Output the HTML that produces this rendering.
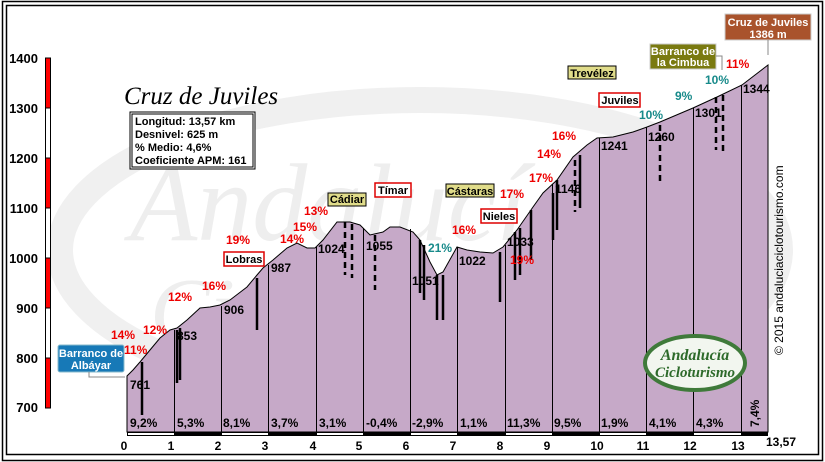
<!DOCTYPE html>
<html><head><meta charset="utf-8"><style>
html,body{margin:0;padding:0;background:#fff}
svg{display:block}
text{font-family:"Liberation Sans",sans-serif;font-weight:bold}
</style></head><body>
<svg width="825" height="462" viewBox="0 0 825 462" xmlns="http://www.w3.org/2000/svg">
<rect x="0" y="0" width="825" height="462" fill="#fff"/>
<rect x="2.5" y="1.5" width="820" height="459" fill="none" stroke="#000" stroke-width="1.5"/>
<rect x="6.5" y="5.5" width="812" height="449" fill="none" stroke="#000" stroke-width="1.5"/>
<!-- watermark -->
<ellipse cx="420" cy="250" rx="360" ry="150" fill="none" stroke="#f0f0f0" stroke-width="26"/>
<text x="130" y="240" font-size="110" fill="#eeeeee" style="font-family:'Liberation Serif',serif;font-style:italic;font-weight:normal">Andalucía</text>
<text x="150" y="340" font-size="90" fill="#eeeeee" style="font-family:'Liberation Serif',serif;font-style:italic;font-weight:normal">Cicloturismo</text>
<!-- y axis bar -->
<g stroke="#000" stroke-width="1">
<rect x="45.5" y="58" width="5" height="50" fill="#f00"/>
<rect x="45.5" y="108" width="5" height="50" fill="#fff"/>
<rect x="45.5" y="158" width="5" height="50" fill="#f00"/>
<rect x="45.5" y="208" width="5" height="50" fill="#fff"/>
<rect x="45.5" y="258" width="5" height="50" fill="#f00"/>
<rect x="45.5" y="308" width="5" height="50" fill="#fff"/>
<rect x="45.5" y="358" width="5" height="50" fill="#f00"/>
</g>
<g font-size="13" fill="#000" text-anchor="end">
<text x="38" y="63">1400</text><text x="38" y="113">1300</text><text x="38" y="163">1200</text><text x="38" y="213">1100</text>
<text x="38" y="263">1000</text><text x="38" y="313">900</text><text x="38" y="363">800</text><text x="38" y="412">700</text>
</g>
<!-- profile -->
<path d="M127,376 L133,370 L140,362 L150,350 L160,338 L170,330 L177,328 L187,320 L200,308 L210,307 L220,305 L230,300 L247,287 L257,275 L263,268 L273,260 L287,248 L297,243 L307,248 L315,248 L323,240 L337,222 L350,222 L360,225 L370,235 L383,232 L390,227 L400,227 L413,232 L420,240 L430,262 L437,275 L443,272 L457,247 L467,250 L480,252 L493,253 L503,247 L517,230 L533,207 L543,193 L557,180 L573,157 L587,145 L597,138 L613,137 L633,132 L647,127 L660,122 L693,108 L717,97 L742,85 L768,65 L768,432 L127,432 Z" fill="#c6a9c8" stroke="#000" stroke-width="1"/>
<!-- km lines -->
<g stroke="#000" stroke-width="1">
<line x1="174.5" y1="330" x2="174.5" y2="432"/><line x1="221.5" y1="306" x2="221.5" y2="432"/><line x1="268.5" y1="265" x2="268.5" y2="432"/>
<line x1="316.5" y1="247" x2="316.5" y2="432"/><line x1="363.5" y1="228" x2="363.5" y2="432"/><line x1="410.5" y1="229" x2="410.5" y2="432"/>
<line x1="457.5" y1="247" x2="457.5" y2="432"/><line x1="505.5" y1="245" x2="505.5" y2="432"/><line x1="552.5" y1="184" x2="552.5" y2="432"/>
<line x1="599.5" y1="138" x2="599.5" y2="432"/><line x1="646.5" y1="127" x2="646.5" y2="432"/><line x1="693.5" y1="108" x2="693.5" y2="432"/>
<line x1="741.5" y1="85" x2="741.5" y2="432"/>
</g>
<!-- thick marks -->
<g stroke="#000" stroke-width="2.5">
<line x1="142" y1="362" x2="142" y2="415"/><line x1="177" y1="330" x2="177" y2="383"/><line x1="180" y1="328" x2="180" y2="380"/>
<line x1="257" y1="278" x2="257" y2="330"/><line x1="437" y1="275" x2="437" y2="320"/><line x1="443" y1="275" x2="443" y2="320"/>
<line x1="420" y1="240" x2="420" y2="293"/><line x1="424" y1="245" x2="424" y2="300"/><line x1="500" y1="252" x2="500" y2="302"/>
<line x1="515" y1="232" x2="515" y2="280"/><line x1="520" y1="228" x2="520" y2="275"/><line x1="531" y1="210" x2="531" y2="260"/>
<line x1="553" y1="193" x2="553" y2="240"/><line x1="557" y1="180" x2="557" y2="230"/><line x1="580" y1="155" x2="580" y2="208"/>
</g>
<g stroke="#000" stroke-width="2.5" stroke-dasharray="6,4">
<line x1="345" y1="222" x2="345" y2="275"/><line x1="352" y1="224" x2="352" y2="278"/><line x1="375" y1="235" x2="375" y2="290"/>
<line x1="575" y1="160" x2="575" y2="212"/><line x1="660" y1="125" x2="660" y2="185"/><line x1="716" y1="97" x2="716" y2="150"/><line x1="723" y1="95" x2="723" y2="152"/>
</g>
<!-- elevation labels -->
<g font-size="12" fill="#000">
<text x="130" y="389">761</text><text x="177" y="340">853</text><text x="224" y="314">906</text><text x="271" y="272">987</text>
<text x="318" y="253">1024</text><text x="366" y="250">1055</text><text x="412" y="285">1051</text><text x="459" y="265">1022</text>
<text x="507" y="246">1033</text><text x="555" y="193">1146</text><text x="601" y="150">1241</text><text x="648" y="141">1260</text>
<text x="695" y="117">1301</text><text x="743" y="93">1344</text>
</g>
<!-- segment pct -->
<g font-size="12" fill="#000">
<text x="130" y="427">9,2%</text><text x="177" y="427">5,3%</text><text x="223" y="427">8,1%</text><text x="271" y="427">3,7%</text>
<text x="319" y="427">3,1%</text><text x="366" y="427">-0,4%</text><text x="412" y="427">-2,9%</text><text x="460" y="427">1,1%</text>
<text x="507" y="427">11,3%</text><text x="554" y="427">9,5%</text><text x="601" y="427">1,9%</text><text x="649" y="427">4,1%</text>
<text x="696" y="427">4,3%</text><text x="759" y="427" transform="rotate(-90 759 427)">7,4%</text>
</g>
<!-- bottom bar -->
<rect x="127" y="432" width="641" height="4" fill="#000"/>
<g fill="#fff"><rect x="128" y="433" width="46" height="2"/><rect x="222" y="433" width="46" height="2"/><rect x="317" y="433" width="46" height="2"/><rect x="411" y="433" width="46" height="2"/><rect x="506" y="433" width="46" height="2"/><rect x="600" y="433" width="46" height="2"/><rect x="694" y="433" width="47" height="2"/></g>
<g font-size="12" fill="#000" text-anchor="middle">
<text x="124" y="450">0</text><text x="171" y="450">1</text><text x="218" y="450">2</text><text x="265" y="450">3</text><text x="313" y="450">4</text>
<text x="359" y="450">5</text><text x="406" y="450">6</text><text x="453" y="450">7</text><text x="500" y="450">8</text><text x="547" y="450">9</text>
<text x="597" y="450">10</text><text x="643" y="450">11</text><text x="690" y="450">12</text><text x="738" y="450">13</text><text x="781" y="446">13,57</text>
</g>
<!-- title & info -->
<text x="124" y="104" font-size="25" fill="#000" style="font-family:'Liberation Serif',serif;font-style:italic;font-weight:normal">Cruz de Juviles</text>
<rect x="130" y="112" width="125" height="57" fill="#fff" stroke="#000" stroke-width="1"/>
<rect x="132" y="114" width="121" height="53" fill="none" stroke="#000" stroke-width="1"/>
<g font-size="11" fill="#000"><text x="135" y="125">Longitud: 13,57 km</text><text x="135" y="138">Desnivel: 625 m</text><text x="135" y="151">% Medio: 4,6%</text><text x="135" y="164">Coeficiente APM: 161</text></g>
<!-- signs -->
<rect x="58" y="345" width="66" height="27" rx="2" fill="#1779b7" stroke="#8bc" stroke-width="1"/>
<text x="91" y="357" font-size="11" fill="#fff" text-anchor="middle">Barranco de</text><text x="91" y="369" font-size="11" fill="#fff" text-anchor="middle">Albáyar</text>
<polyline points="89,372 89,377 125,377" fill="none" stroke="#888"/>
<rect x="725" y="14" width="86" height="26" fill="#a9532c" stroke="#ccc"/>
<text x="768" y="26" font-size="11" fill="#fff" text-anchor="middle">Cruz de Juviles</text><text x="768" y="38" font-size="11" fill="#fff" text-anchor="middle">1386 m</text>
<line x1="768" y1="40" x2="768" y2="55" stroke="#888"/>
<rect x="650" y="44" width="66" height="25" fill="#7a7a10" stroke="#ccc"/>
<text x="683" y="55" font-size="11" fill="#fff" text-anchor="middle">Barranco de</text><text x="683" y="66" font-size="11" fill="#fff" text-anchor="middle">la Cimbua</text>
<polyline points="716,56 722,56 722,70" fill="none" stroke="#888"/>
<g font-size="11" fill="#000" text-anchor="middle">
<rect x="568" y="66" width="48" height="13" fill="#e0dc8a" stroke="#000"/><text x="592" y="77">Trevélez</text>
<rect x="328" y="193" width="38" height="13" fill="#e0dc8a" stroke="#000"/><text x="347" y="203">Cádiar</text>
<rect x="446" y="184" width="48" height="13" fill="#e0dc8a" stroke="#000"/><text x="470" y="195">Cástaras</text>
<rect x="599" y="93" width="41" height="14" fill="#fff" stroke="#d00" stroke-width="1.5"/><text x="620" y="104">Juviles</text>
<rect x="375" y="183" width="36" height="14" fill="#fff" stroke="#d00" stroke-width="1.5"/><text x="393" y="194">Tímar</text>
<rect x="481" y="209" width="36" height="14" fill="#fff" stroke="#d00" stroke-width="1.5"/><text x="499" y="220">Nieles</text>
<rect x="224" y="252" width="40" height="14" fill="#fff" stroke="#d00" stroke-width="1.5"/><text x="244" y="263">Lobras</text>
</g>
<!-- slope labels -->
<g font-size="12" fill="#e00">
<text x="111" y="339">14%</text><text x="143" y="334">12%</text><text x="124" y="354">11%</text><text x="168" y="301">12%</text>
<text x="202" y="290">16%</text><text x="226" y="244">19%</text><text x="280" y="243">14%</text><text x="293" y="231">15%</text>
<text x="304" y="215">13%</text><text x="452" y="234">16%</text><text x="500" y="198">17%</text><text x="510" y="264">19%</text>
<text x="529" y="182">17%</text><text x="537" y="158">14%</text><text x="552" y="140">16%</text><text x="726" y="68">11%</text>
</g>
<g font-size="12" fill="#178a8a"><text x="428" y="252">21%</text><text x="639" y="119">10%</text><text x="675" y="100">9%</text><text x="705" y="84">10%</text></g>
<!-- logo -->
<ellipse cx="695" cy="363" rx="50" ry="27" fill="#f2f6ef" stroke="#3f7a3a" stroke-width="4"/>
<text x="695" y="360" font-size="16" fill="#2d6a2a" text-anchor="middle" style="font-family:'Liberation Serif',serif;font-style:italic;font-weight:bold">Andalucía</text>
<text x="695" y="377" font-size="15" fill="#2d6a2a" text-anchor="middle" style="font-family:'Liberation Serif',serif;font-style:italic;font-weight:bold">Cicloturismo</text>
<!-- copyright -->
<text x="783" y="355" font-size="12" fill="#000" transform="rotate(-90 783 355)" style="font-weight:normal">© 2015 andaluciaciclotourismo.com</text>
</svg>
</body></html>
